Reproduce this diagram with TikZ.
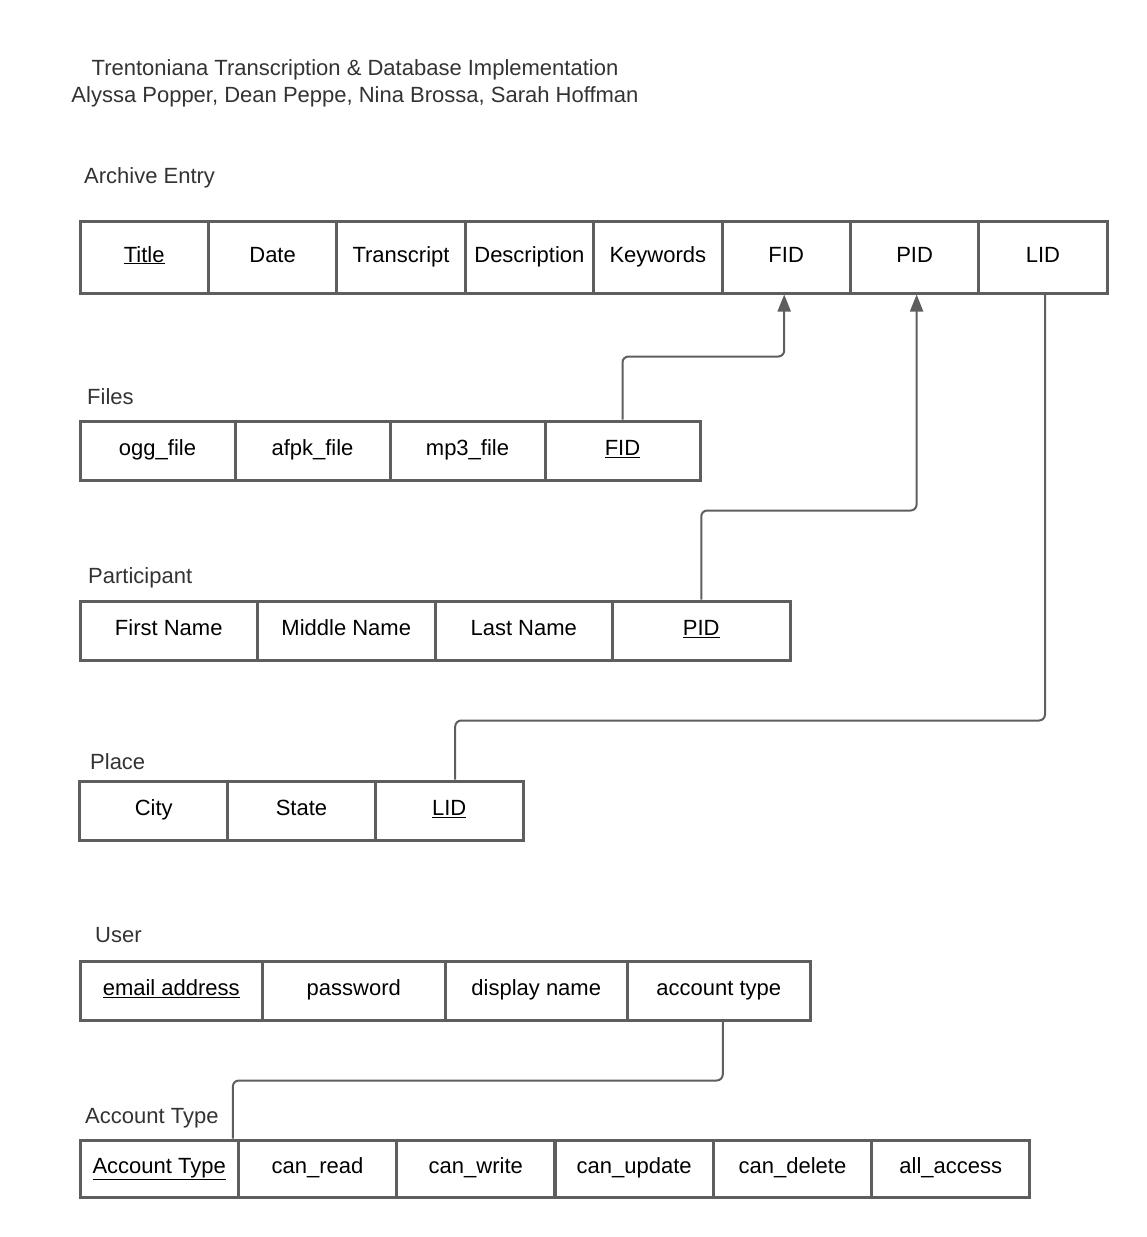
\documentclass[tikz,border=0pt]{standalone}
\usepackage{fontspec}
\setmainfont{Liberation Sans}
\usetikzlibrary{arrows.meta}
\definecolor{linegray}{HTML}{5E5E5E}
\definecolor{labelgray}{HTML}{333333}
\newcommand{\txtfont}{\fontsize{22}{27}\selectfont}
\tikzset{
  cell/.style={draw=linegray, line width=3pt, inner sep=0pt, fill=white, font=\txtfont, text=black,
    text height=16pt, text depth=6pt},
  aecell/.style={cell, minimum width=128.4pt, minimum height=72pt},
  ficell/.style={cell, minimum width=155pt, minimum height=59pt},
  pacell/.style={cell, minimum width=177.5pt, minimum height=59pt},
  plcell/.style={cell, minimum width=147.67pt, minimum height=59pt},
  uscell/.style={cell, minimum width=182.5pt, minimum height=59pt},
  accell/.style={cell, minimum width=158.33pt, minimum height=57pt},
  tlabel/.style={anchor=west, inner sep=0pt, font=\txtfont, text=labelgray},
  conn/.style={draw=linegray, line width=2pt, rounded corners=6pt},
  fk/.style={conn, -{Triangle[length=17pt,width=13pt]}}
}
\begin{document}
\begin{tikzpicture}[x=1pt, y=-1pt]
\useasboundingbox (0,0) rectangle (1147,1237);

% heading
\node[inner sep=0pt, align=center, font=\txtfont, text=labelgray] (head) at (355,83)
  {Trentoniana Transcription \& Database Implementation\\Alyssa Popper, Dean Peppe, Nina Brossa, Sarah Hoffman};

% Archive Entry
\node[tlabel] (aelab) at (84,178) {Archive Entry};
\node[aecell] (ae1) at (144.2,257) {\underline{Title}};
\node[aecell] (ae2) at (272.6,257) {Date};
\node[aecell] (ae3) at (401.0,257) {Transcript};
\node[aecell] (ae4) at (529.4,257) {Description};
\node[aecell] (ae5) at (657.8,257) {Keywords};
\node[aecell] (ae6) at (786.2,257) {FID};
\node[aecell] (ae7) at (914.6,257) {PID};
\node[aecell] (ae8) at (1043.0,257) {LID};

% Files
\node[tlabel] (filab) at (87,397) {Files};
\node[ficell] (fi1) at (157.5,450.5) {ogg\_file};
\node[ficell] (fi2) at (312.5,450.5) {afpk\_file};
\node[ficell] (fi3) at (467.5,450.5) {mp3\_file};
\node[ficell] (fi4) at (622.5,450.5) {\underline{FID}};

% Participant
\node[tlabel] (palab) at (88,578) {Participant};
\node[pacell] (pa1) at (168.75,630.5) {First Name};
\node[pacell] (pa2) at (346.25,630.5) {Middle Name};
\node[pacell] (pa3) at (523.75,630.5) {Last Name};
\node[pacell] (pa4) at (701.25,630.5) {\underline{PID}};

% Place
\node[tlabel] (pllab) at (90,762) {Place};
\node[plcell] (pl1) at (153.8,810.5) {City};
\node[plcell] (pl2) at (301.5,810.5) {State};
\node[plcell] (pl3) at (449.2,810.5) {\underline{LID}};

% User
\node[tlabel] (uslab) at (95,935) {User};
\node[uscell] (us1) at (171.25,990.5) {\underline{email address}};
\node[uscell] (us2) at (353.75,990.5) {password};
\node[uscell] (us3) at (536.25,990.5) {display name};
\node[uscell] (us4) at (718.75,990.5) {account type};

% Account Type
\node[tlabel] (aclab) at (85,1118) {Account Type};
\node[accell] (ac1) at (159.2,1168.5) {\underline{Account Type}};
\node[accell] (ac2) at (317.5,1168.5) {can\_read};
\node[accell] (ac3) at (475.8,1168.5) {can\_write};
\node[accell] (ac4) at (634.2,1168.5) {can\_update};
\node[accell] (ac5) at (792.5,1168.5) {can\_delete};
\node[accell] (ac6) at (950.8,1168.5) {all\_access};

% foreign keys
\draw[fk] (fi4.north) -- ++(0,-63) -| ([xshift=-2pt]ae6.south);
\draw[fk] (pa4.north) -- ++(0,-89) -| ([xshift=2pt]ae7.south);
\draw[conn] ([xshift=2pt]ae8.south) -- ++(0,426) -| ([xshift=6pt]pl3.north);
\draw[conn] ([xshift=4pt]us4.south) -- ++(0,59) -| ([xshift=-7pt]ac1.north east);
\end{tikzpicture}
\end{document}
